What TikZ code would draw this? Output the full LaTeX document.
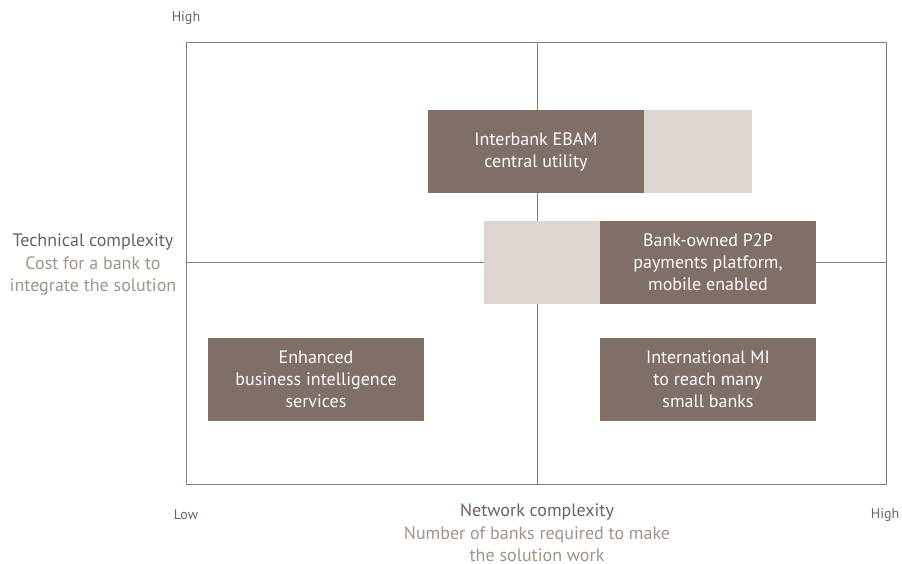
\documentclass[tikz,border=0pt]{standalone}
\usepackage{fontspec}
\setmainfont{PT Sans}
\definecolor{darkbox}{HTML}{7F6F66}
\definecolor{lightbox}{HTML}{DDD5D0}
\definecolor{frameln}{HTML}{8A7A70}
\definecolor{titletxt}{HTML}{6E625B}
\definecolor{subtxt}{HTML}{A39389}
\begin{document}
\begin{tikzpicture}[x=1pt,y=-1pt,
  dbox/.style={fill=darkbox,draw=none,text=white,align=center,font=\fontsize{18}{22}\selectfont,inner sep=0pt},
  lbox/.style={fill=lightbox,draw=none},
  ax/.style={draw=frameln,line width=1pt},
  small/.style={text=titletxt,font=\fontsize{14}{16}\selectfont},
  ttl/.style={text=titletxt,font=\fontsize{18}{22}\selectfont,align=center},
  sub/.style={text=subtxt,font=\fontsize{18}{22}\selectfont,align=center}]
\useasboundingbox (0,0) rectangle (902,563);
\draw[ax] (186,42) rectangle (886,484);
\coordinate (vt) at (537,42);
\coordinate (vb) at (537,484);
\coordinate (hl) at (186,262);
\coordinate (hr) at (886,262);
\draw[ax] (vt) -- (vb);
\draw[ax] (hl) -- (hr);
% boxes
\fill[lbox] (644,110) rectangle (752,193);
\node[dbox,minimum width=216pt,minimum height=83pt] (ebam) at (536,151.5) {Interbank EBAM\\central utility};
\fill[lbox] (484,221) rectangle (600,304);
\node[dbox,minimum width=216pt,minimum height=83pt] (p2p) at (708,262.5) {Bank-owned P2P\\payments platform,\\mobile enabled};
\node[dbox,minimum width=216pt,minimum height=83pt] (bi) at (316,379.5) {Enhanced\\business intelligence\\services};
\node[dbox,minimum width=216pt,minimum height=83pt] (mi) at (708,379.5) {International MI\\to reach many\\small banks};
% labels
\node[small] (hightop) at (186,18) {High};
\node[small] (low) at (186,515) {Low};
\node[small] (highr) at (885,515) {High};
\node[ttl] (tc) at (93,242) {Technical complexity};
\node[sub,anchor=north] (tcs) at (93,253) {Cost for a bank to\\integrate the solution};
\node[ttl] (nc) at (537,512) {Network complexity};
\node[sub,anchor=north] (ncs) at (537,523) {Number of banks required to make\\the solution work};
\end{tikzpicture}
\end{document}
